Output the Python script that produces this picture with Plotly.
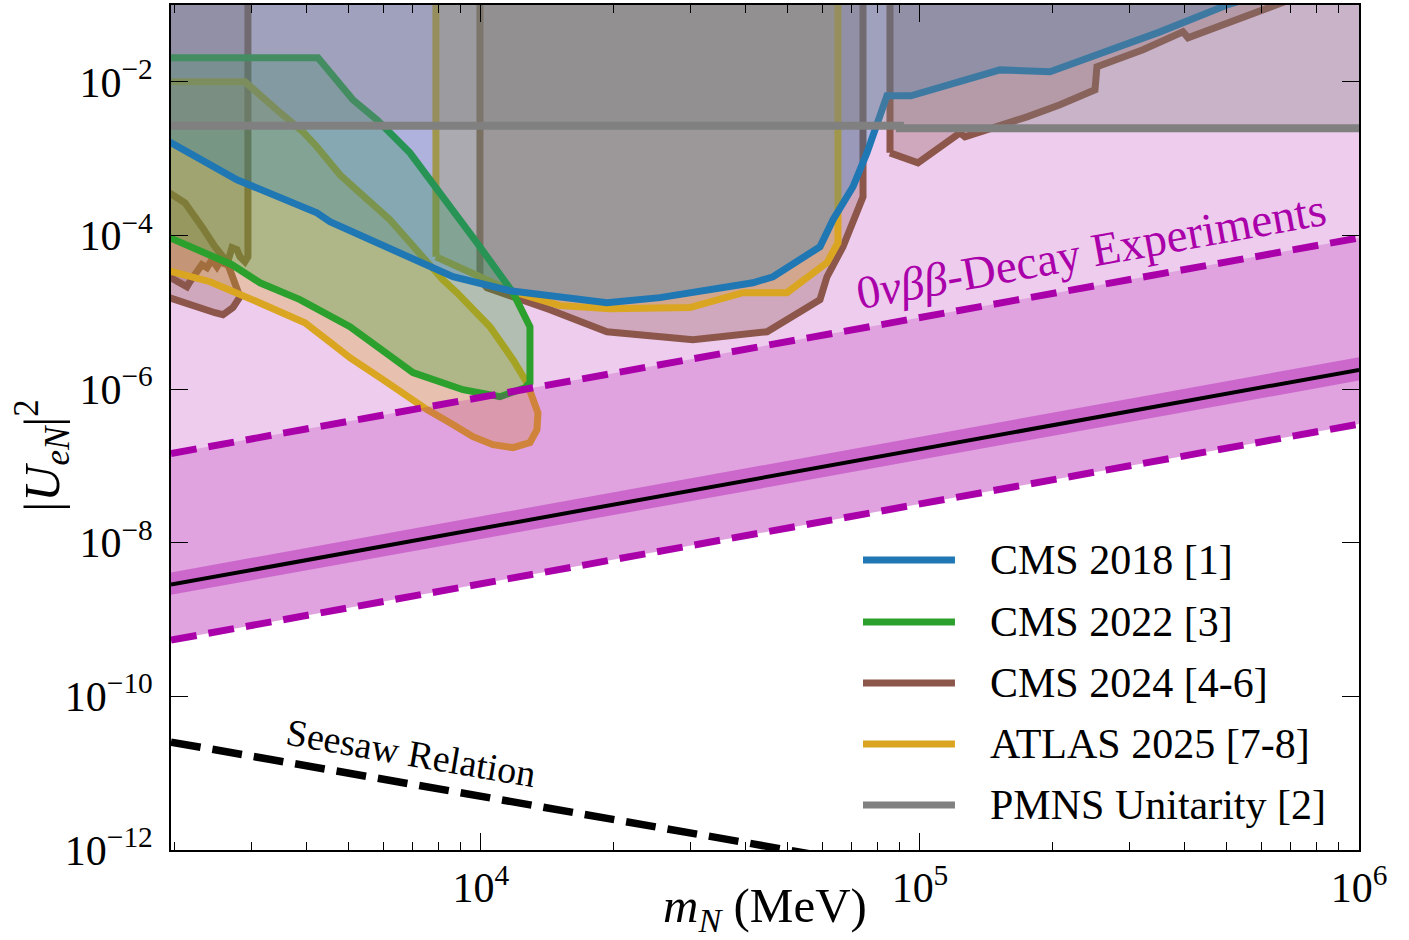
import math
import plotly.graph_objects as go

# ---------------------------------------------------------------- axis window
M_MIN, M_MAX = 1968.0, 1.0e6
U_MIN, U_MAX = 1e-12, 1e-1
X_OUT = 1800.0      # just left of the frame, used to close contours
Y_OUT = 1.0         # above the frame, used to close "excluded above" regions

# ---------------------------------------------------------------- collider limits (m_N in MeV, |U_eN|^2)
# CMS 2018 [1]: excluded above the curve
cms2018_m = [1968, 2782, 4230, 4529, 7534, 8636, 11645, 15136, 19364, 25568, 41648,
             46263, 59186, 63385, 70375, 75730, 84100, 95400, 152100, 197800, 352200,
             500400, 595000]
cms2018_u2 = [1.61e-3, 5.31e-4, 1.97e-4, 1.51e-4, 4.16e-5, 2.90e-5, 1.91e-5, 1.59e-5,
              1.33e-5, 1.55e-5, 2.42e-5, 2.90e-5, 7.13e-5, 1.60e-4, 4.30e-4, 1.19e-3,
              6.57e-3, 6.57e-3, 1.43e-2, 1.35e-2, 4.47e-2, 0.100, 0.136]

# CMS 2022 [3]: closed island (lower edge left->right, then upper edge right->left)
cms2022_m = [1968, 2709, 3138, 3870, 5030, 6302, 7000, 9100, 11048, 12600, 12931,
             12931, 11830, 9793, 7775, 6891, 5797, 5110, 4254, 1968]
cms2022_u2 = [1.15e-4, 4.16e-5, 2.42e-5, 1.46e-5, 6.49e-6, 2.64e-6, 1.64e-6, 9.82e-7,
              7.96e-7, 1.04e-6, 1.21e-6, 6.49e-6, 1.80e-5, 8.04e-5, 5.00e-4, 1.19e-3,
              3.20e-3, 5.83e-3, 2.05e-2, 2.05e-2]

# CMS 2024 [4-6]: prompt low-mass piece (excluded above)
cms2024_prompt_m = [1968, 2040, 2139, 2173, 2255, 2314, 2376, 2439, 2504, 2544, 2639,
                    2681, 2709, 2782, 2825, 2900, 2946]
cms2024_prompt_u2 = [2.82e-5, 2.50e-5, 2.15e-5, 2.50e-5, 3.37e-5, 4.16e-5, 3.80e-5,
                     4.83e-5, 3.92e-5, 4.55e-5, 4.16e-5, 5.28e-5, 6.92e-5, 6.52e-5,
                     5.28e-5, 4.55e-5, 5.28e-5]
# CMS 2024 displaced island
cms2024_displaced_m = [1968, 2117, 2314, 2478, 2639, 2723, 2782, 2825, 2723, 2584, 2478, 1968]
cms2024_displaced_u2 = [4.85e-4, 2.66e-4, 1.30e-4, 7.13e-5, 4.55e-5, 2.90e-5, 1.97e-5,
                        1.59e-5, 1.15e-5, 9.29e-6, 9.86e-6, 1.80e-5]
# CMS 2024 intermediate mass (excluded above)
cms2024_mid_m = [9948, 10320, 14364, 19364, 30400, 44830, 59186, 61400, 66770, 74170, 74170]
cms2024_mid_u2 = [2.65e-5, 2.09e-5, 1.08e-5, 5.58e-6, 4.40e-6, 5.58e-6, 1.46e-5, 2.90e-5,
                  7.13e-5, 3.19e-4, 1.30e-3]
# CMS 2024 high mass (excluded above)
cms2024_high_m = [85450, 98950, 123300, 126600, 175300, 208400, 250400, 253000, 322100,
                  397200, 407800, 595000, 696300]
cms2024_high_u2 = [1.19e-3, 8.83e-4, 2.17e-3, 1.92e-3, 3.50e-3, 5.02e-3, 7.87e-3, 1.57e-2,
                   2.61e-2, 4.47e-2, 3.74e-2, 8.11e-2, 0.117]

# ATLAS 2025 [7-8]: low-mass island and intermediate-mass region (excluded above)
atlas_low_m = [1968, 2414, 3057, 3972, 4459, 5030, 5982, 6783, 7534, 8500, 9590, 10650,
               11830, 12931, 13416, 13485, 13140, 12729, 11830, 10484, 8817, 8192, 7534,
               7000, 6203, 5302, 4774, 4230, 3930, 3430, 2978, 2900, 1968]
atlas_low_u2 = [3.92e-5, 2.50e-5, 1.41e-5, 7.31e-6, 4.40e-6, 2.56e-6, 1.33e-6, 7.96e-7,
                5.40e-7, 3.65e-7, 2.40e-7, 1.89e-7, 1.73e-7, 2.01e-7, 2.96e-7, 4.93e-7,
                7.96e-7, 1.21e-6, 2.41e-6, 6.49e-6, 1.80e-5, 2.65e-5, 4.55e-5, 7.13e-5,
                1.60e-4, 3.59e-4, 6.17e-4, 1.43e-3, 2.24e-3, 4.32e-3, 8.61e-3, 1.0e-2, 1.0e-2]
atlas_high_m = [7897, 10320, 11830, 15136, 19670, 29935, 39530, 49770, 61400, 65056]
atlas_high_u2 = [5.28e-5, 2.65e-5, 1.85e-5, 1.22e-5, 1.11e-5, 1.15e-5, 1.80e-5, 1.80e-5,
                 4.41e-5, 8.04e-5]

# PMNS unitarity [2] (excluded above)
pmns_m = [1968, 90000, 90000, 1.0e6]
pmns_u2 = [2.68e-3, 2.68e-3, 2.48e-3, 2.48e-3]

# ---------------------------------------------------------------- 0vbb-decay band
onbb_m = [1968, 1.0e6]
onbb_upper = [1.45e-7, 9.3e-5]
onbb_lower = [5.4e-10, 3.5e-7]
onbb_central = [2.85e-9, 1.78e-6]
onbb_core_hi = [4.1e-9, 2.6e-6]
onbb_core_lo = [2.1e-9, 1.29e-6]

# seesaw relation
seesaw_m = [1968, 1.0e5]
seesaw_u2 = [2.54e-11, 5.0e-13]

# legend entries
legend_labels = ["CMS 2018 [1]", "CMS 2022 [3]", "CMS 2024 [4-6]", "ATLAS 2025 [7-8]",
                 "PMNS Unitarity [2]"]

# ---------------------------------------------------------------- styling
BLUE, GREEN, BROWN, GOLD, GREY = "#1f77b4", "#2ca02c", "#8c564b", "#daa520", "#808080"
MAGENTA = "#aa00aa"
legend_colors = [BLUE, GREEN, BROWN, GOLD, GREY]
FONT = "Liberation Serif, Times New Roman, serif"
LW = 7


def rgba(hex_color, alpha):
    h = hex_color.lstrip("#")
    r, g, b = (int(h[i:i + 2], 16) for i in (0, 2, 4))
    return f"rgba({r},{g},{b},{alpha})"


def above(ms, us, from_left=False):
    """Polygon of the region above a boundary, closed through the top of the frame."""
    xs, ys = list(ms), list(us)
    if from_left:
        xs = [X_OUT] + xs
        ys = [ys[0]] + ys
    xs += [xs[-1], xs[0], xs[0]]
    ys += [Y_OUT, Y_OUT, ys[0]]
    return xs, ys


def island(ms, us):
    """Closed contour whose two ends sit on the left frame edge."""
    xs = [X_OUT] + list(ms[1:-1]) + [X_OUT, X_OUT]
    ys = [us[0]] + list(us[1:-1]) + [us[-1], us[0]]
    return xs, ys


def region(xs, ys, color, alpha=0.3, width=LW):
    return go.Scatter(x=xs, y=ys, mode="lines", fill="toself",
                      fillcolor=rgba(color, alpha),
                      line=dict(color=color, width=width),
                      hoverinfo="skip", showlegend=False)


fig = go.Figure()

# 0vbb: light layer from the lower edge upwards (under the collider regions)
fig.add_trace(go.Scatter(
    x=onbb_m + [M_MAX, M_MIN], y=onbb_lower + [Y_OUT, Y_OUT],
    mode="lines", fill="toself", fillcolor=rgba(MAGENTA, 0.2),
    line=dict(width=0), hoverinfo="skip", showlegend=False))

# CMS 2024
fig.add_trace(region(*above(cms2024_prompt_m, cms2024_prompt_u2, from_left=True), BROWN))
fig.add_trace(region(*island(cms2024_displaced_m, cms2024_displaced_u2), BROWN))
fig.add_trace(region(*above(cms2024_mid_m, cms2024_mid_u2), BROWN))
fig.add_trace(region(*above(cms2024_high_m, cms2024_high_u2), BROWN))
# ATLAS 2025
fig.add_trace(region(*island(atlas_low_m, atlas_low_u2), GOLD))
fig.add_trace(region(*above(atlas_high_m, atlas_high_u2), GOLD))
# CMS 2022
fig.add_trace(region(*island(cms2022_m, cms2022_u2), GREEN))
# CMS 2018
fig.add_trace(region(*above(cms2018_m, cms2018_u2, from_left=True), BLUE))
# PMNS unitarity: shade above, then the bound itself
fig.add_trace(go.Scatter(
    x=[X_OUT] + pmns_m + [M_MAX * 1.2, M_MAX * 1.2, X_OUT],
    y=[pmns_u2[0]] + pmns_u2 + [pmns_u2[-1], Y_OUT, Y_OUT],
    mode="lines", fill="toself", fillcolor=rgba(GREY, 0.33),
    line=dict(width=0), hoverinfo="skip", showlegend=False))
fig.add_trace(go.Scatter(x=[X_OUT] + pmns_m + [M_MAX * 1.2],
                         y=[pmns_u2[0]] + pmns_u2 + [pmns_u2[-1]],
                         mode="lines", line=dict(color=GREY, width=8),
                         hoverinfo="skip", showlegend=False))

# 0vbb band between the dashed limits (over the collider regions)
fig.add_trace(go.Scatter(
    x=onbb_m + onbb_m[::-1], y=onbb_lower + onbb_upper[::-1],
    mode="lines", fill="toself", fillcolor=rgba(MAGENTA, 0.2),
    line=dict(width=0), hoverinfo="skip", showlegend=False))
fig.add_trace(go.Scatter(
    x=onbb_m + onbb_m[::-1], y=onbb_core_lo + onbb_core_hi[::-1],
    mode="lines", fill="toself", fillcolor=rgba(MAGENTA, 0.36),
    line=dict(width=0), hoverinfo="skip", showlegend=False))
fig.add_trace(go.Scatter(x=onbb_m, y=onbb_central, mode="lines",
                         line=dict(color="black", width=4),
                         hoverinfo="skip", showlegend=False))
for edge in (onbb_upper, onbb_lower):
    fig.add_trace(go.Scatter(x=onbb_m, y=edge, mode="lines",
                             line=dict(color=MAGENTA, width=7, dash="26px,12px"),
                             hoverinfo="skip", showlegend=False))

# seesaw relation
fig.add_trace(go.Scatter(x=seesaw_m, y=seesaw_u2, mode="lines",
                         line=dict(color="black", width=7.5, dash="30px,12px"),
                         hoverinfo="skip", showlegend=False))

# ---------------------------------------------------------------- labels on the plot
fig.add_annotation(x=math.log10(2.45e5), y=math.log10(6.3e-5),
                   text="0<i>νββ</i>-Decay Experiments", showarrow=False,
                   textangle=-10.3, font=dict(family=FONT, size=47, color=MAGENTA))
fig.add_annotation(x=math.log10(6926), y=math.log10(1.85e-11),
                   text="Seesaw Relation", showarrow=False, textangle=9.8,
                   font=dict(family=FONT, size=38, color="black"))

# ---------------------------------------------------------------- legend (drawn in paper space)
leg_y = [0.3432, 0.2698, 0.1976, 0.1254, 0.0533]
for label, col, yy in zip(legend_labels, legend_colors, leg_y):
    fig.add_shape(type="line", xref="paper", yref="paper", x0=0.5825, x1=0.6599,
                  y0=yy, y1=yy, line=dict(color=col, width=7))
    fig.add_annotation(xref="paper", yref="paper", x=0.6877, y=yy, xanchor="left",
                       yanchor="middle", text=label, showarrow=False,
                       font=dict(family=FONT, size=42, color="black"))

# axis titles
fig.add_annotation(xref="paper", yref="paper", x=0.5, y=-0.069, yanchor="middle",
                   text="<i>m</i><sub><i>N</i></sub> (MeV)", showarrow=False,
                   font=dict(family=FONT, size=49, color="black"))
fig.add_annotation(xref="paper", yref="paper", x=-0.108, y=0.4675, xanchor="center",
                   yanchor="middle", textangle=-90,
                   text="|<i>U</i><sub><i>eN</i></sub>|<sup>2</sup>", showarrow=False,
                   font=dict(family=FONT, size=50, color="black"))

# ---------------------------------------------------------------- axes
x_major = [1e4, 1e5, 1e6]
x_minor = [k * 10 ** d for d in (3, 4, 5) for k in range(2, 10)]
y_major = [10.0 ** p for p in range(-12, -1, 2)]


def pow_label(p):
    return "10<sup>" + str(p).replace("-", "−") + "</sup>"


fig.update_xaxes(type="log", range=[math.log10(M_MIN), math.log10(M_MAX)],
                 tickvals=x_major, ticktext=[pow_label(p) for p in (4, 5, 6)],
                 ticks="inside", ticklen=17, tickwidth=1.3, tickcolor="black",
                 minor=dict(tickvals=x_minor, ticks="inside", ticklen=8,
                            tickwidth=1.1, tickcolor="black", showgrid=False),
                 showline=True, linecolor="black", linewidth=1.6, mirror="allticks",
                 showgrid=False, zeroline=False,
                 tickfont=dict(family=FONT, size=42, color="black"))
fig.update_yaxes(type="log", range=[math.log10(U_MIN), math.log10(U_MAX)],
                 tickvals=y_major, ticktext=[pow_label(p) for p in range(-12, -1, 2)],
                 ticks="inside", ticklen=17, tickwidth=1.3, tickcolor="black",
                 showline=True, linecolor="black", linewidth=1.6, mirror="allticks",
                 showgrid=False, zeroline=False, ticklabelstandoff=8,
                 tickfont=dict(family=FONT, size=42, color="black"))

fig.update_layout(width=1409, height=940,
                  margin=dict(l=171, r=50, t=5, b=90, autoexpand=False),
                  plot_bgcolor="white", paper_bgcolor="white",
                  showlegend=False, font=dict(family=FONT))

fig.write_html("out.html")
